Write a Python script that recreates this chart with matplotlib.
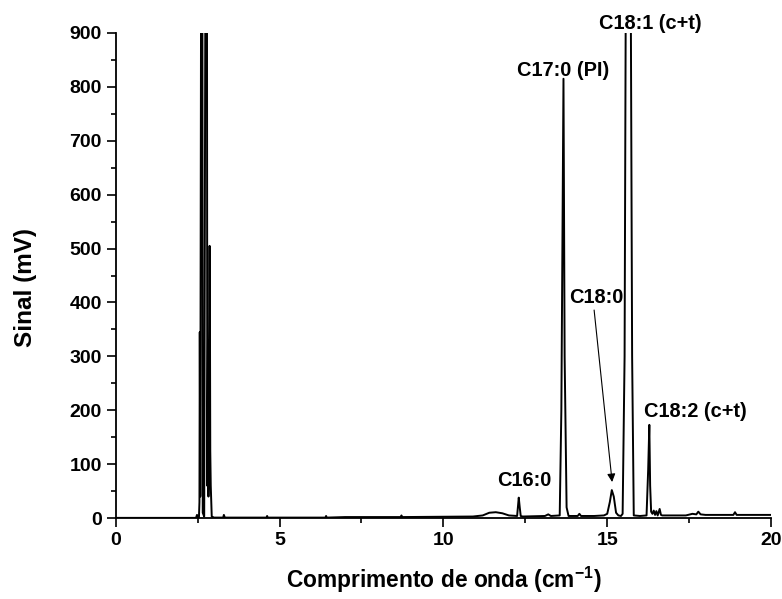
import matplotlib
matplotlib.use("Agg")
import matplotlib.pyplot as plt
from matplotlib.ticker import MultipleLocator

plt.rcParams['font.family'] = ['Liberation Sans', 'DejaVu Sans']
plt.rcParams['font.weight'] = 'bold'
plt.rcParams['mathtext.fontset'] = 'custom'
plt.rcParams['mathtext.rm'] = 'Liberation Sans:bold'
plt.rcParams['mathtext.bf'] = 'Liberation Sans:bold'

# chromatogram trace, vertices
tempo = [0.0, 2.45, 2.48, 2.51, 2.54, 2.555, 2.565, 2.58, 2.615, 2.64, 2.655, 2.70,
         2.75, 2.78, 2.795, 2.815, 2.83, 2.865, 2.875, 2.885, 2.90, 2.93, 3.0,
         3.28, 3.30, 3.33, 4.6, 4.62, 4.64, 6.4, 6.42, 6.44, 7.0, 8.7, 8.72, 8.74,
         10.9, 11.2, 11.4, 11.6, 11.8, 12.0, 12.25, 12.3, 12.33, 12.36, 12.42,
         13.1, 13.2, 13.28, 13.55, 13.60, 13.665, 13.70, 13.76, 13.82, 14.1, 14.15,
         14.2, 14.6, 14.9, 15.0, 15.08, 15.14, 15.2, 15.27, 15.34, 15.42, 15.47,
         15.53, 15.60, 15.68, 15.76, 15.81, 16.0, 16.2, 16.25, 16.285, 16.31,
         16.34, 16.38, 16.42, 16.46, 16.50, 16.54, 16.60, 16.64, 16.68, 16.9,
         17.4, 17.6, 17.72, 17.78, 17.85, 18.0, 18.85, 18.9, 18.95, 20.0]
sinal = [0.5, 0.5, 6, 0.5, 2, 30, 345, 40, 1400, 1400, 10, 3,
         1400, 1400, 60, 330, 40, 505, 380, 125, 60, 3, 1,
         1, 6, 1, 1, 4, 1, 1, 4, 1, 2, 2, 5, 2,
         3, 5, 10, 11, 9, 5, 4, 38, 20, 4, 3,
         4, 7, 4, 5, 200, 815, 300, 20, 4, 4, 8,
         4, 4, 5, 8, 30, 52, 40, 10, 5, 4, 8,
         300, 1600, 1600, 300, 5, 4, 5, 90, 173, 60,
         12, 8, 14, 6, 13, 5, 17, 6, 5, 5,
         5, 8, 7, 12, 7, 6, 6, 11, 6, 6]

picos = ['C16:0', 'C17:0 (PI)', 'C18:0', 'C18:1 (c+t)', 'C18:2 (c+t)']
pico_x = [12.46, 13.65, 14.66, 16.3, 17.68]
pico_y = [69, 831, 410, 918, 198]

fig = plt.figure(figsize=(7.82, 5.99), dpi=100)
ax = fig.add_axes([0.148, 0.135, 0.838, 0.81])

ax.plot(tempo, sinal, color='black', linewidth=1.4)

ax.set_xlim(0, 20)
ax.set_ylim(0, 900)
ax.xaxis.set_major_locator(MultipleLocator(5))
ax.xaxis.set_minor_locator(MultipleLocator(2.5))
ax.yaxis.set_major_locator(MultipleLocator(100))
ax.yaxis.set_minor_locator(MultipleLocator(50))
ax.tick_params(which='both', direction='out', width=1.2, labelsize=14, pad=3.5)
ax.tick_params(which='major', length=6.5)
ax.tick_params(which='minor', length=3.6)
ax.spines['top'].set_visible(False)
ax.spines['right'].set_visible(False)
for s in ('left', 'bottom'):
    ax.spines[s].set_linewidth(1.3)

ax.set_xlabel('Comprimento de onda (cm$^{-1}$)', fontsize=16.4, fontweight='bold')
ax.set_ylabel('Sinal (mV)', fontsize=17.5, fontweight='bold')
ax.xaxis.set_label_coords(0.5, -0.097)
ax.yaxis.set_label_coords(-0.12, 0.476)

for nome, px, py in zip(picos, pico_x, pico_y):
    ax.text(px, py, nome, ha='center', va='center', fontsize=14.4,
            fontweight='bold', clip_on=False)

ax.annotate('', xy=(15.15, 67), xytext=(14.6, 386),
            arrowprops=dict(arrowstyle='-|>', color='black', lw=0.8,
                            mutation_scale=12, shrinkA=0, shrinkB=0))

fig.savefig('out.png', dpi=100)
